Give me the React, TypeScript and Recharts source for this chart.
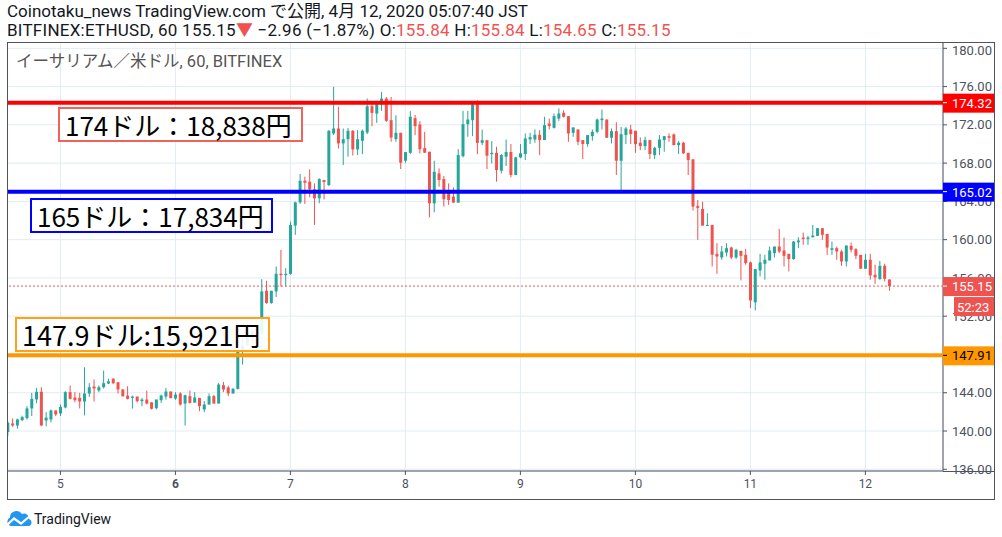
import React from 'react'
import {
  ComposedChart, Bar, XAxis, YAxis, CartesianGrid, ReferenceLine,
} from 'recharts'

// hourly ETH/USD candles, Apr 4 13:00 -> Apr 12 05:00 (JST)
const opens = [
  139.89, 140.79, 140.58, 141.14, 141.35, 142.36, 143.30, 144.10, 141.10, 141.20,
  142.15, 141.84, 142.46, 144.06, 143.50, 143.47, 143.08, 143.92, 144.65, 144.23,
  144.58, 144.96, 145.48, 145.10, 144.34, 143.70, 143.46, 143.60, 143.12, 143.29,
  143.00, 142.39, 143.22, 143.60, 144.13, 143.40, 143.92, 142.87, 143.64, 142.97,
  143.46, 142.25, 142.77, 143.64, 142.87, 144.79, 144.55, 143.92, 144.40, 148.33,
  148.96, 150.42, 149.79, 150.17, 154.66, 153.37, 154.59, 156.43, 156.29, 156.43,
  161.47, 163.90, 166.16, 166.06, 165.26, 164.32, 166.23, 165.71, 171.10, 171.62,
  170.06, 170.50, 171.38, 169.43, 170.33, 171.20, 173.95, 173.18, 174.16, 174.75,
  172.49, 170.51, 171.17, 168.25, 169.08, 172.70, 172.04, 169.57, 169.19, 163.80,
  166.93, 166.33, 165.12, 164.50, 163.87, 168.73, 172.07, 172.49, 174.16, 170.12,
  170.40, 168.94, 169.08, 167.21, 168.67, 169.16, 166.76, 168.60, 168.95, 170.47,
  170.47, 170.96, 170.41, 172.14, 171.69, 172.66, 173.26, 172.91, 171.17, 171.52,
  170.41, 169.99, 170.82, 171.27, 172.49, 172.56, 170.65, 171.34, 168.25, 170.93,
  171.52, 171.38, 170.13, 169.78, 170.41, 168.84, 169.60, 170.41, 170.82, 171.00,
  169.88, 170.13, 169.08, 168.39, 163.53, 163.21, 161.44, 161.54, 158.52, 158.14,
  158.66, 159.18, 158.14, 158.83, 158.41, 157.62, 153.45, 156.78, 157.48, 157.83,
  158.59, 159.28, 158.87, 158.52, 157.97, 159.73, 160.22, 160.08, 160.25, 160.39,
  161.20, 160.60, 158.94, 159.11, 158.76, 157.72, 159.35, 159.00, 158.41, 156.96,
  157.90, 156.33, 155.88, 157.27, 155.84,
]
const highs = [
  141.03, 141.31, 141.30, 141.60, 142.60, 143.99, 144.50, 144.58, 141.97, 142.25,
  142.15, 142.77, 144.16, 144.75, 144.06, 143.99, 146.67, 145.00, 145.38, 144.75,
  146.32, 145.48, 145.48, 145.10, 144.40, 144.68, 143.70, 143.60, 143.46, 144.23,
  143.00, 143.29, 143.81, 144.51, 144.13, 144.06, 144.06, 143.81, 144.23, 144.06,
  143.46, 143.12, 143.92, 143.78, 145.03, 145.13, 144.75, 144.51, 148.43, 149.72,
  150.66, 150.66, 150.66, 155.87, 155.70, 154.66, 157.20, 158.93, 157.02, 161.89,
  163.97, 166.86, 166.58, 167.35, 165.88, 166.41, 166.23, 171.45, 175.97, 173.88,
  171.62, 171.68, 171.45, 171.45, 171.51, 174.75, 174.30, 174.40, 175.44, 174.92,
  174.92, 173.01, 171.17, 169.15, 173.43, 173.04, 172.38, 171.27, 169.19, 168.25,
  167.45, 166.65, 165.88, 165.47, 169.46, 173.46, 173.46, 174.16, 174.57, 171.51,
  170.40, 170.30, 169.71, 168.95, 170.47, 169.99, 168.67, 169.99, 171.10, 171.17,
  171.52, 171.45, 172.84, 172.66, 173.19, 173.71, 173.53, 172.91, 171.73, 171.52,
  170.41, 170.93, 171.52, 172.66, 173.60, 172.56, 171.62, 172.28, 171.80, 171.80,
  172.00, 171.38, 170.69, 170.76, 170.41, 169.71, 170.93, 170.82, 171.10, 171.10,
  170.30, 170.23, 169.08, 168.43, 164.15, 163.98, 162.76, 161.54, 159.63, 159.35,
  159.63, 159.28, 159.04, 158.83, 159.04, 157.72, 156.92, 158.52, 158.42, 159.28,
  159.28, 161.13, 160.22, 158.52, 159.87, 160.25, 160.74, 160.39, 161.54, 161.20,
  161.20, 160.60, 159.80, 159.28, 158.94, 159.39, 159.70, 159.11, 158.41, 158.52,
  158.52, 157.38, 157.79, 157.48, 155.84,
]
const lows = [
  139.47, 140.44, 140.24, 141.03, 141.20, 141.56, 142.90, 140.51, 140.50, 140.90,
  141.56, 141.56, 142.36, 143.30, 143.00, 142.36, 141.63, 143.57, 143.08, 144.06,
  144.44, 144.90, 144.90, 143.92, 143.57, 143.30, 142.35, 143.00, 142.60, 142.77,
  142.25, 142.25, 142.94, 143.29, 143.43, 143.26, 142.66, 140.58, 142.87, 142.97,
  142.08, 141.97, 142.77, 142.87, 142.87, 144.06, 143.64, 143.92, 144.34, 146.94,
  148.85, 148.68, 149.72, 150.07, 153.30, 153.30, 154.00, 155.10, 155.10, 156.33,
  160.50, 163.73, 163.73, 164.42, 161.54, 163.80, 164.20, 165.60, 170.93, 169.53,
  167.80, 168.67, 168.80, 168.84, 168.94, 171.03, 171.86, 172.21, 173.46, 172.31,
  170.23, 170.23, 167.38, 168.04, 168.94, 170.92, 169.01, 169.08, 162.34, 162.86,
  165.54, 163.45, 163.63, 163.87, 163.87, 168.60, 170.75, 170.82, 168.94, 169.88,
  167.38, 167.97, 166.06, 166.93, 167.70, 166.51, 166.76, 168.50, 168.32, 169.99,
  170.13, 168.84, 170.41, 171.52, 171.62, 172.42, 172.77, 170.23, 170.75, 169.88,
  168.42, 169.71, 170.34, 171.10, 171.52, 170.65, 170.06, 166.76, 165.19, 169.99,
  169.99, 169.08, 169.36, 169.36, 168.42, 168.42, 168.84, 169.19, 170.23, 169.88,
  168.95, 168.95, 166.76, 163.04, 159.98, 161.47, 161.44, 157.20, 156.43, 157.90,
  158.24, 157.97, 157.97, 155.74, 157.38, 152.85, 152.61, 156.16, 155.81, 157.83,
  158.14, 158.59, 157.20, 156.68, 157.90, 159.11, 159.46, 159.46, 160.25, 160.39,
  159.98, 158.41, 158.41, 157.90, 157.27, 157.20, 158.66, 157.97, 156.96, 156.96,
  155.81, 155.39, 155.81, 155.63, 154.65,
]
const closes = [
  140.86, 140.58, 141.21, 141.45, 142.36, 143.36, 144.10, 140.58, 141.40, 142.15,
  141.73, 142.53, 144.06, 143.36, 143.22, 143.08, 143.92, 144.58, 144.44, 144.58,
  145.00, 145.20, 145.00, 144.34, 143.64, 143.36, 143.60, 143.12, 143.29, 142.87,
  142.32, 143.29, 143.71, 144.13, 143.43, 143.81, 142.77, 143.74, 142.94, 143.50,
  142.60, 142.77, 143.64, 142.87, 144.86, 144.34, 143.92, 144.40, 148.43, 148.96,
  150.42, 149.72, 150.24, 154.59, 153.37, 154.66, 156.43, 156.29, 156.43, 161.54,
  163.90, 166.16, 165.95, 165.26, 164.32, 166.33, 166.03, 171.38, 171.62, 170.06,
  170.50, 171.38, 169.43, 170.50, 171.38, 173.95, 173.25, 174.16, 174.75, 172.42,
  170.68, 171.17, 168.04, 169.15, 172.84, 171.86, 169.46, 169.08, 163.80, 167.10,
  166.23, 164.22, 164.15, 163.87, 168.84, 172.07, 172.56, 174.16, 170.12, 170.40,
  168.77, 169.08, 167.27, 168.84, 169.16, 166.76, 168.60, 169.02, 170.58, 170.72,
  170.96, 170.41, 171.97, 171.87, 172.91, 173.19, 172.84, 171.10, 171.73, 170.23,
  169.99, 170.93, 171.27, 172.56, 172.66, 170.65, 171.34, 168.25, 171.03, 171.62,
  171.03, 169.99, 169.78, 170.41, 168.95, 169.60, 170.47, 170.82, 170.65, 169.88,
  170.13, 169.02, 168.32, 163.46, 163.32, 161.47, 161.54, 158.42, 158.24, 158.76,
  159.11, 158.14, 158.94, 158.31, 157.55, 153.65, 156.92, 157.62, 157.90, 158.87,
  159.28, 158.76, 158.31, 157.97, 159.80, 159.91, 160.08, 160.22, 160.43, 161.20,
  160.50, 159.18, 159.11, 158.76, 157.72, 159.39, 158.94, 158.31, 156.96, 157.90,
  156.26, 156.05, 157.27, 155.91, 155.15,
]

const dayTicks = [0, 24, 48, 72, 96, 120, 144, 168]
const dayLabels = ['5', '6', '7', '8', '9', '10', '11', '12']
const priceTicks = [136, 140, 144, 148, 152, 156, 160, 164, 168, 172, 176, 180]

const levels = [
  { price: 174.32, color: '#ff0000', text: '#ffffff' },
  { price: 165.02, color: '#0000ff', text: '#ffffff' },
  { price: 147.91, color: '#ff9800', text: '#000000' },
]
const lastPrice = 155.15
const countdown = '52:23'

const UP = '#26a69a'
const DOWN = '#ef5350'
const AXIS = '#50535e'
const TEXT = '#4c525e'

const X_DOMAIN = [-11.15, 184.2]
const Y_DOMAIN = [135.82, 180.66]

const data = opens.map((o, i) => ({
  t: i - 11, o, h: highs[i], l: lows[i], c: closes[i],
}))

const Candle = (props: any) => {
  const { x, y, width, height, payload } = props
  if (!payload) return null
  const { o, h, l, c } = payload
  const top = Math.min(y, y + height)
  const hgt = Math.abs(height)
  const k = h === l ? 0 : hgt / (h - l)
  const color = c >= o ? UP : DOWN
  const cx = x + width / 2
  const bodyTop = top + (h - Math.max(o, c)) * k
  const bodyH = Math.max(1, Math.abs(o - c) * k)
  return (
    <g>
      <line x1={cx} x2={cx} y1={top} y2={top + hgt} stroke={color} strokeWidth={1} />
      <rect x={cx - 1.5} y={bodyTop} width={3} height={bodyH} fill={color} />
    </g>
  )
}

const DayTick = (props: any) => {
  const { x, y, payload } = props
  const i = dayTicks.indexOf(payload.value)
  const label = dayLabels[i] ?? ''
  return (
    <text x={x} y={y + 11} textAnchor="middle" fill={TEXT} fontSize={12}
      fontWeight={label === '6' ? 'bold' : 'normal'}>{label}</text>
  )
}

// price tag drawn in the right scale next to a horizontal line
const priceTag = (price: number, bg: string, fg: string, extra?: string) => (props: any) => {
  const vb = props.viewBox
  if (!vb) return null
  const x0 = vb.x + vb.width
  const y0 = vb.y
  return (
    <g>
      <rect x={x0} y={y0 - 9} width={51} height={19} fill={bg} />
      <line x1={x0} x2={x0 + 4} y1={y0} y2={y0} stroke={fg} />
      <text x={x0 + 9} y={y0 + 5} fill={fg} fontSize={13}>{price.toFixed(2)}</text>
      {extra && (
        <g>
          <rect x={x0 + 11} y={y0 + 11} width={40} height={19} fill={bg} />
          <text x={x0 + 14} y={y0 + 25.5} fill={fg} fontSize={13}>{extra}</text>
        </g>
      )}
    </g>
  )
}

const boxStyle = (color: string, left: number, top: number, w: number, size: number): React.CSSProperties => ({
  position: 'absolute', left, top, width: w, height: 35, boxSizing: 'border-box',
  border: `2px solid ${color}`, background: 'rgba(255,255,255,0.9)',
  fontFamily: '"Noto Sans CJK JP", sans-serif', fontSize: size, lineHeight: '31px',
  paddingLeft: 5, color: '#000', whiteSpace: 'nowrap', overflow: 'visible',
})

const chartMargin = { top: 0, right: 0, bottom: 0, left: 0 }

export default function App() {
  const red = (s: string) => <span style={{ color: DOWN }}>{s}</span>
  return (
    <div style={{
      position: 'absolute', left: 0, top: 0, width: 1002, height: 537, background: '#fff',
      fontFamily: 'Roboto, "Noto Sans CJK JP", sans-serif', color: '#131722', overflow: 'hidden',
    }}>
      <div style={{ position: 'absolute', left: 7, top: 2, fontSize: 17, lineHeight: '19px', whiteSpace: 'nowrap' }}>
        Coinotaku_news TradingView.com で公開, 4月 12, 2020 05:07:40 JST
      </div>
      <div style={{ position: 'absolute', left: 7, top: 21, fontSize: 17, lineHeight: '19px', whiteSpace: 'nowrap', letterSpacing: 0.25 }}>
        BITFINEX:ETHUSD, 60 155.15{red('▼')} −2.96 (−1.87%) O:{red('155.84')} H:{red('155.84')} L:{red('154.65')} C:{red('155.15')}
      </div>

      {/* candles, grid and axes */}
      <div style={{ position: 'absolute', left: 7, top: 42 }}>
        <ComposedChart width={988} height={458} data={data} margin={chartMargin}>
          <CartesianGrid stroke="#e1ecf2" />
          <XAxis dataKey="t" type="number" domain={X_DOMAIN} ticks={dayTicks}
            allowDataOverflow tick={<DayTick />} tickSize={4} height={29}
            axisLine={{ stroke: AXIS }} tickLine={{ stroke: AXIS }} />
          <YAxis orientation="right" type="number" domain={Y_DOMAIN} ticks={priceTicks}
            allowDataOverflow width={52} tickSize={4} tickMargin={5}
            tickFormatter={(v: number) => v.toFixed(2)}
            tick={{ fill: TEXT, fontSize: 13, textAnchor: 'start' }}
            axisLine={{ stroke: AXIS }} tickLine={{ stroke: AXIS }} />
          <Bar dataKey={(d: any) => [d.l, d.h]} shape={<Candle />} barSize={3}
            isAnimationActive={false} />
        </ComposedChart>
      </div>

      {/* horizontal levels with their price tags, drawn above the axis */}
      <div style={{ position: 'absolute', left: 7, top: 42 }}>
        <ComposedChart width={988} height={458} data={data} margin={chartMargin}>
          <XAxis dataKey="t" type="number" domain={X_DOMAIN} allowDataOverflow
            height={29} tick={false} axisLine={false} tickLine={false} />
          <YAxis orientation="right" type="number" domain={Y_DOMAIN} allowDataOverflow
            width={52} tick={false} axisLine={false} tickLine={false} />
          <ReferenceLine y={lastPrice} stroke={DOWN} strokeDasharray="2 2" strokeWidth={1}
            label={priceTag(lastPrice, DOWN, '#ffffff', countdown)} />
          {levels.map(lv => (
            <ReferenceLine key={lv.price} y={lv.price} stroke={lv.color} strokeWidth={4}
              label={priceTag(lv.price, lv.color, lv.text)} />
          ))}
        </ComposedChart>
      </div>

      {/* chart frame */}
      <div style={{ position: 'absolute', left: 7, top: 42, width: 988, height: 458, boxSizing: 'border-box', border: `1px solid ${AXIS}`, pointerEvents: 'none' }} />
      <div style={{ position: 'absolute', left: 943, top: 471, width: 52, height: 1, background: AXIS }} />

      <div style={{ position: 'absolute', left: 16, top: 52, fontSize: 16.5, color: '#555', lineHeight: '20px', whiteSpace: 'nowrap' }}>
        イーサリアム／米ドル, 60, BITFINEX
      </div>

      <div style={boxStyle('rgba(240,70,60,0.85)', 58, 107, 245, 26)}>174ドル：18,838円</div>
      <div style={boxStyle('#0000ff', 30, 198, 243, 26)}>165ドル：17,834円</div>
      <div style={boxStyle('rgba(255,152,0,0.9)', 15, 317, 255, 27)}>147.9ドル:15,921円</div>

      <svg style={{ position: 'absolute', left: 6, top: 510 }} width={27} height={18}>
        <path d="M5 16 A4.5 4.5 0 0 1 4 7.5 A6.5 6.5 0 0 1 16 4 A5 5 0 0 1 23 9 A3.6 3.6 0 0 1 22.5 16 Z" fill="#2196f3" />
        <polyline points="1,15 8,8.5 15,13.5 24,6" stroke="#ffffff" strokeWidth={2.2} fill="none" />
      </svg>
      <div style={{ position: 'absolute', left: 34, top: 510, fontSize: 14, lineHeight: '18px', color: '#131722' }}>
        TradingView
      </div>
    </div>
  )
}
